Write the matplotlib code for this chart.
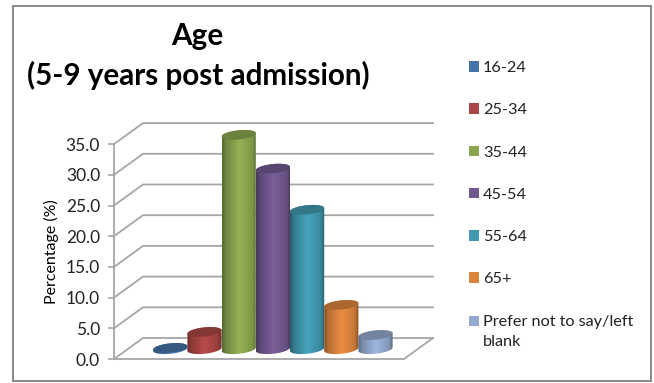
import numpy as np
import matplotlib
matplotlib.use('Agg')
import matplotlib.pyplot as plt
from matplotlib.patches import Patch, PathPatch, Polygon, Rectangle
from matplotlib.path import Path
from matplotlib.colors import to_rgb

plt.rcParams['font.family'] = ['Lato', 'DejaVu Sans']

groups = ['16-24', '25-34', '35-44', '45-54', '55-64', '65+', 'Prefer not to say/left\nblank']
percent = [0.2, 2.8, 34.9, 29.4, 22.7, 7.2, 2.3]
colors = ['#4572A7', '#AA4643', '#89A54E', '#71588F', '#4198AF', '#DB843D', '#93A9CF']
yticks = [0, 5, 10, 15, 20, 25, 30, 35]

W, H = 654, 383
GRID = '#a6a6a6'
PX_PER_UNIT = 6.14   # vertical pixels for 1 percent
PX_PER_BAR = 34.2    # horizontal pixels for one category
DX = 29 / PX_PER_BAR     # depth offset of the back wall
DY = 21 / PX_PER_UNIT
BASE = 1.6           # bars stand a bit in front of the floor's back edge
RX, RY = 0.5, 4.6 / PX_PER_UNIT   # ellipse radii of a cylinder
TILT = 1.7 / PX_PER_UNIT

fig = plt.figure(figsize=(W / 100, H / 100), dpi=100)

# outer frame
fig.add_artist(Rectangle((13 / W, 1 - 381 / H), 638 / W, 375 / H, transform=fig.transFigure,
                         fill=False, ec='#8c8c8c', lw=1.5))

left, right, top, bottom = 114, 433, 123, 359
ax = fig.add_axes([left / W, 1 - bottom / H, (right - left) / W, (bottom - top) / H])
x0 = (left - 170.3) / PX_PER_BAR
ax.set_xlim(x0, x0 + (right - left) / PX_PER_BAR)
ax.set_ylim(0, (bottom - top) / PX_PER_UNIT)
ax.patch.set_alpha(0)
for name in ['top', 'right', 'bottom']:
    ax.spines[name].set_visible(False)
ax.spines['left'].set_bounds(0, 35)
ax.spines['left'].set_color(GRID)
ax.spines['left'].set_linewidth(1.3)
ax.set_xticks([])
ax.set_yticks(yticks)
ax.set_yticklabels(['%.1f' % v for v in yticks], fontsize=12.5, color='#222222')
ax.tick_params(axis='y', color=GRID, length=4, width=1.2, pad=6)
ax.set_ylabel('Percentage (%)', fontsize=11.5, color='black')
ax.yaxis.set_label_coords((59 - left) / (right - left), (bottom - 252) / (bottom - top))

# gridlines: slanted on the side wall, flat on the back wall
x_end = ax.get_xlim()[1]
for v in yticks:
    ax.plot([x0, x0 + DX, x_end], [v, v + DY, v + DY], color=GRID, lw=1.3,
            clip_on=False, zorder=1, solid_joinstyle='miter')

# floor edge
ax.plot([x0, x_end - DX, x_end], [0, 0, DY], color=GRID, lw=1.3, clip_on=False, zorder=1)


def ellipse(cx, cy, start, stop, n=40):
    t = np.linspace(start, stop, n)
    return np.column_stack([cx + RX * np.cos(t), cy + RY * np.sin(t) + TILT * np.cos(t)])


def shaded(color, stops, factors):
    xs = np.linspace(0, 1, 128)
    f = np.interp(xs, stops, factors)
    rgb = np.array(to_rgb(color))
    img = np.clip(rgb[None, :] * f[:, None], 0, 1)
    return img[None, :, :]


for i, (value, color) in enumerate(zip(percent, colors)):
    z = 3 + i
    front = ellipse(i, BASE, np.pi, 2 * np.pi)
    back = ellipse(i, BASE + value, 0, np.pi)
    side = np.vstack([front, back])
    body = PathPatch(Path(np.vstack([side, side[:1]]), closed=True), fc='none', ec='none',
                     transform=ax.transData)
    ax.add_patch(body)
    im = ax.imshow(shaded(color, [0, 0.12, 0.5, 0.88, 1], [0.62, 0.82, 1.08, 0.9, 0.62]),
                   extent=[i - RX, i + RX, BASE - RY - TILT, BASE + value + RY + TILT],
                   aspect='auto', zorder=z, interpolation='bilinear')
    im.set_clip_path(body)
    cap = ellipse(i, BASE + value, 0, 2 * np.pi)
    ax.add_patch(Polygon(cap, closed=True, fc=tuple(np.array(to_rgb(color)) * 0.78),
                         ec='none', zorder=z + 0.5))

ax.set_xlim(x0, x_end)
ax.set_ylim(0, (bottom - top) / PX_PER_UNIT)

fig.text(197 / W, 1 - 36 / H, 'Age', fontsize=21.3, fontweight='bold', ha='center', va='center')
fig.text(198 / W, 1 - 75 / H, '(5-9 years post admission)', fontsize=21.3, fontweight='bold',
         ha='center', va='center')

handles = [Patch(fc=c, ec='none') for c in colors]
leg = fig.legend(handles, groups, loc='upper left', bbox_to_anchor=(469 / W, 1 - 61 / H),
                 borderaxespad=0, borderpad=0, frameon=False, fontsize=11.7, labelspacing=1.74,
                 handlelength=0.62, handleheight=0.62, handletextpad=0.25, labelcolor='#222222')
leg.get_texts()[-1].set_linespacing(1.6)
# two-line entry: keep its swatch beside the first line
leg.legend_handles[-1].set_y(8)

fig.savefig('out.png', dpi=100)
